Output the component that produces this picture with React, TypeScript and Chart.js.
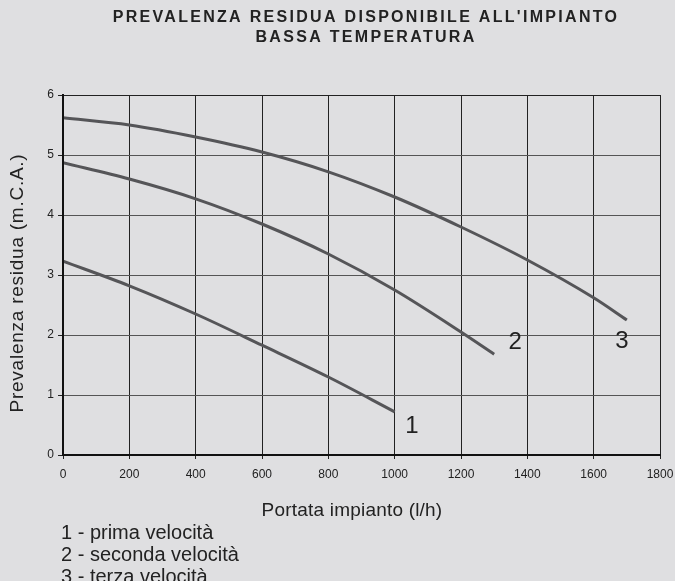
import React, { useEffect, useRef } from "react";
import { Chart, registerables } from "chart.js";
Chart.register(...registerables);

const titleLines = ["PREVALENZA RESIDUA DISPONIBILE ALL'IMPIANTO", "BASSA TEMPERATURA"];
const xTitle = "Portata impianto (l/h)";
const yTitle = "Prevalenza residua (m.C.A.)";
const legendLines = ["1 - prima velocità", "2 - seconda velocità", "3 - terza velocità"];

const flow1 = [0, 200, 400, 600, 800, 1000];
const head1 = [3.23, 2.82, 2.35, 1.83, 1.3, 0.72];
const flow2 = [0, 200, 400, 600, 800, 1000, 1200, 1300];
const head2 = [4.87, 4.6, 4.27, 3.85, 3.35, 2.75, 2.05, 1.68];
const flow3 = [0, 200, 400, 600, 800, 1000, 1200, 1400, 1600, 1700];
const head3 = [5.62, 5.5, 5.3, 5.05, 4.72, 4.3, 3.8, 3.25, 2.62, 2.25];

// curve number labels placed in data coordinates
const curveLabels = ["1", "2", "3"];
const labelX = [1052, 1363, 1685];
const labelY = [0.48, 1.88, 1.9];

const BG = "#dfdfe1";
const FONT = "'Liberation Sans', Arial, sans-serif";

const toPts = (xs: number[], ys: number[]) => xs.map((x, i) => ({ x, y: ys[i] }));

const decor = {
  id: "decor",
  beforeDraw(chart: any) {
    const ctx = chart.ctx;
    ctx.save();
    ctx.fillStyle = BG;
    ctx.fillRect(0, 0, chart.width, chart.height);
    ctx.restore();
  },
  afterDraw(chart: any) {
    const ctx = chart.ctx;
    const { chartArea, scales } = chart;
    ctx.save();
    ctx.fillStyle = "#222";
    ctx.textAlign = "center";
    ctx.textBaseline = "middle";
    ctx.font = `bold 16px ${FONT}`;
    (ctx as any).letterSpacing = "2.3px";
    ctx.fillText(titleLines[0], 366, 18);
    ctx.fillText(titleLines[1], 366, 38);

    ctx.font = `19px ${FONT}`;
    (ctx as any).letterSpacing = "0.2px";
    ctx.fillText(xTitle, 352, 511);
    ctx.save();
    ctx.translate(18, 283);
    ctx.rotate(-Math.PI / 2);
    (ctx as any).letterSpacing = "0.75px";
    ctx.fillText(yTitle, 0, 0);
    ctx.restore();

    ctx.textAlign = "left";
    ctx.font = `20px ${FONT}`;
    (ctx as any).letterSpacing = "0px";
    legendLines.forEach((t, i) => ctx.fillText(t, 61, 533 + i * 22));

    ctx.textAlign = "center";
    ctx.font = `24px ${FONT}`;
    curveLabels.forEach((t, i) => {
      ctx.fillText(t, scales.x.getPixelForValue(labelX[i]), scales.y.getPixelForValue(labelY[i]));
    });

    // thick left and bottom axes
    ctx.strokeStyle = "#111";
    ctx.lineWidth = 2;
    ctx.beginPath();
    ctx.moveTo(chartArea.left, chartArea.top);
    ctx.lineTo(chartArea.left, chartArea.bottom);
    ctx.lineTo(chartArea.right, chartArea.bottom);
    ctx.stroke();
    ctx.restore();
  },
};

export default function App() {
  const ref = useRef<HTMLCanvasElement>(null);
  useEffect(() => {
    const ds = (pts: any) => ({
      data: pts,
      borderColor: "#555558",
      borderWidth: 3,
      pointRadius: 0,
      fill: false,
      cubicInterpolationMode: "monotone" as const,
    });
    const chart = new Chart(ref.current!, {
      type: "line",
      data: {
        datasets: [ds(toPts(flow1, head1)), ds(toPts(flow2, head2)), ds(toPts(flow3, head3))],
      },
      options: {
        responsive: false,
        animation: false,
        layout: { padding: { top: 95, right: 15, left: 0, bottom: 0 } },
        plugins: { legend: { display: false }, title: { display: false }, tooltip: { enabled: false } },
        scales: {
          x: {
            type: "linear",
            min: 0,
            max: 1800,
            ticks: {
              stepSize: 200,
              color: "#222",
              font: { size: 12, family: FONT },
              padding: 8,
              maxRotation: 0,
              callback: (v: any) => String(v),
            },
            grid: { color: "#222", lineWidth: 1, tickLength: 4, tickColor: "#222" },
            border: { display: true, color: "#111", width: 2 },
            afterFit: (s: any) => {
              s.height = 126;
              s.paddingRight = 0;
              s.paddingLeft = 0;
            },
          },
          y: {
            min: 0,
            max: 6,
            ticks: { stepSize: 1, color: "#222", font: { size: 12, family: FONT }, padding: 4 },
            grid: {
              color: (c: any) => (c.tick && c.tick.value === 6 ? "#222" : "#555"),
              lineWidth: 1,
              tickLength: 5,
              tickColor: "#222",
            },
            border: { display: true, color: "#111", width: 2 },
            afterFit: (s: any) => {
              s.width = 63;
              s.paddingTop = 0;
              s.paddingBottom = 0;
            },
          },
        },
      },
      plugins: [decor],
    });
    return () => chart.destroy();
  }, []);
  return (
    <div style={{ position: "fixed", left: 0, top: 0, width: 675, height: 581, background: BG }}>
      <canvas ref={ref} width={675} height={581} style={{ display: "block" }} />
    </div>
  );
}
